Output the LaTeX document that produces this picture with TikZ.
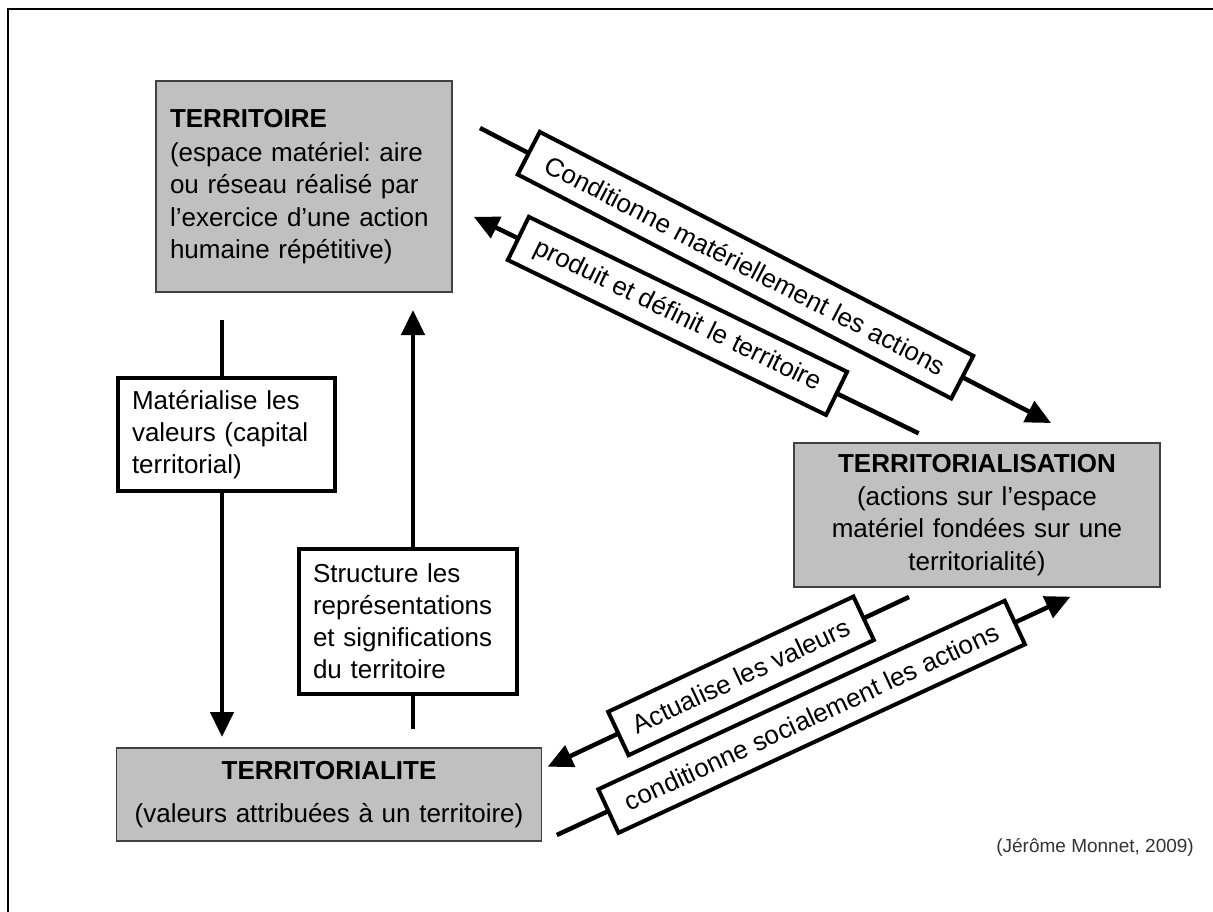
\documentclass[tikz,border=0pt]{standalone}
\usepackage{fontspec}
\setmainfont{Liberation Sans}
\usetikzlibrary{arrows.meta}
\definecolor{boxgray}{HTML}{C0C0C0}
\definecolor{boxedge}{HTML}{404040}
\frenchspacing
\begin{document}
\begin{tikzpicture}[x=1pt,y=-1pt,
  mainbox/.style={draw=boxedge, line width=1.3pt, fill=boxgray, inner sep=0pt,
    font=\fontsize{26}{32.5}\selectfont},
  labbox/.style={draw=black, line width=4pt, fill=white, inner sep=0pt,
    font=\fontsize{26}{32}\selectfont},
  conn/.style={line width=4.5pt, -{Triangle[length=25pt,width=23pt]}},
  frameline/.style={line width=2.6pt}
]
\useasboundingbox (0,0) rectangle (1213,912);
% frame
\coordinate (f1) at (8,912);
\coordinate (f2) at (8,9);
\coordinate (f3) at (1213,9);
\draw[frameline] (f1) -- (f2) -- (f3);

% main boxes
\node[mainbox, minimum width=296pt, minimum height=211pt, text width=268pt, align=left] (terr) at (304,186.5)
  {\textbf{TERRITOIRE}\\[1.5pt](espace matériel: aire\\ou réseau réalisé par\\l’exercice d’une action\\humaine répétitive)};
\node[mainbox, minimum width=366pt, minimum height=144pt, text width=350pt, align=center] (tsat) at (977,515)
  {\textbf{TERRITORIALISATION}\\(actions sur l’espace\\matériel fondées sur une\\territorialité)};
\node[mainbox, minimum width=425pt, minimum height=93pt, text width=415pt, align=center] (tite) at (329,794.5)
  {\textbf{TERRITORIALITE}\\[10pt](valeurs attribuées à un territoire)};

% vertical connectors
\coordinate (m1) at (222,320);
\coordinate (m2) at (222,737);
\draw[conn] (m1) -- (m2);
\node[labbox, minimum width=217pt, minimum height=113pt, text width=189pt, align=left] (mat) at (226.5,434.5)
  {Matérialise les\\valeurs (capital\\territorial)};

\coordinate (s1) at (413,729);
\coordinate (s2) at (413,310);
\draw[conn] (s1) -- (s2);
\node[labbox, minimum width=218pt, minimum height=145pt, text width=190pt, align=left] (str) at (408,621.5)
  {Structure les\\représentations\\et significations\\du territoire};

% diagonal connectors
\coordinate (c1s) at (480,128);
\coordinate (c1e) at (1051,423);
\draw[conn] (c1s) -- (c1e)
  node[labbox, sloped, pos=0.465, minimum width=488pt, minimum height=48pt] (lab1) {Conditionne matériellement les actions};

\coordinate (c2s) at (918.6,433.3);
\coordinate (c2e) at (473.7,216.7);
\draw[conn] (c2s) -- (c2e)
  node[labbox, sloped, pos=0.542, minimum width=354pt, minimum height=48pt] (lab2) {produit et définit le territoire};

\coordinate (c3s) at (909,597);
\coordinate (c3e) at (547.7,766.7);
\draw[conn] (c3s) -- (c3e)
  node[labbox, sloped, pos=0.465, minimum width=271pt, minimum height=48pt] (lab3) {Actualise les valeurs};

\coordinate (c4s) at (556.8,835);
\coordinate (c4e) at (1070.5,596.7);
\draw[conn] (c4s) -- (c4e)
  node[labbox, sloped, pos=0.496, minimum width=448pt, minimum height=48pt] (lab4) {conditionne socialement les actions};

% credit
\node[anchor=east, inner sep=0pt, font=\fontsize{19}{22}\selectfont, text=black!80] (credit) at (1194,847) {(Jérôme Monnet, 2009)};
\end{tikzpicture}
\end{document}
